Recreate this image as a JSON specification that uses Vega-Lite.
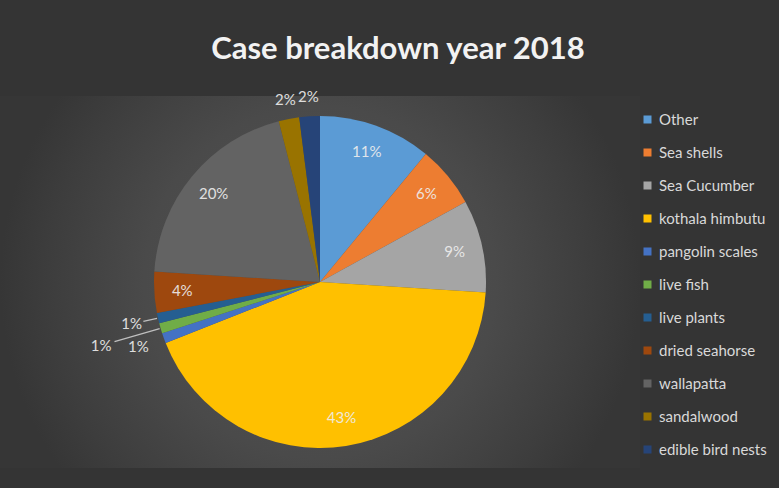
{
  "$schema": "https://vega.github.io/schema/vega-lite/v6.json",
  "width": 640,
  "height": 372,
  "autosize": {"type": "none"},
  "padding": {"left": 0, "top": 96, "right": 139, "bottom": 20},
  "background": "#343434",
  "config": {
    "font": "Lato",
    "view": {"stroke": null}
  },
  "title": {
    "text": "Case breakdown year 2018",
    "font": "Lato",
    "fontSize": 31,
    "fontWeight": "bold",
    "color": "#f2f2f2",
    "anchor": "middle",
    "frame": "group",
    "dx": 78,
    "offset": -19
  },
  "data": {
    "values": [
      {"rank": 1, "name": "Other", "pct": 11, "label": "11%"},
      {"rank": 2, "name": "Sea shells", "pct": 6, "label": "6%"},
      {"rank": 3, "name": "Sea Cucumber", "pct": 9, "label": "9%"},
      {"rank": 4, "name": "kothala himbutu", "pct": 43, "label": "43%"},
      {"rank": 5, "name": "pangolin scales", "pct": 1, "label": "1%"},
      {"rank": 6, "name": "live fish", "pct": 1, "label": "1%"},
      {"rank": 7, "name": "live plants", "pct": 1, "label": "1%"},
      {"rank": 8, "name": "dried seahorse", "pct": 4, "label": "4%"},
      {"rank": 9, "name": "wallapatta", "pct": 20, "label": "20%"},
      {"rank": 10, "name": "sandalwood", "pct": 2, "label": "2%"},
      {"rank": 11, "name": "edible bird nests", "pct": 2, "label": "2%"}
    ]
  },
  "layer": [
    {
      "transform": [{"filter": "datum.rank === 1"}],
      "mark": {
        "type": "rect",
        "fill": {
          "gradient": "radial",
          "x1": 0.5, "y1": 0.5, "r1": 0,
          "x2": 0.5, "y2": 0.5, "r2": 0.5,
          "stops": [
            {"offset": 0, "color": "#545454"},
            {"offset": 0.55, "color": "#4a4a4a"},
            {"offset": 0.85, "color": "#3d3d3d"},
            {"offset": 1, "color": "#363636"}
          ]
        }
      },
      "encoding": {}
    },
    {
      "mark": {"type": "arc", "outerRadius": 166, "stroke": null},
      "encoding": {
        "theta": {"field": "pct", "type": "quantitative", "stack": true},
        "order": {"field": "rank", "type": "quantitative"},
        "color": {
          "field": "name",
          "type": "nominal",
          "sort": null,
          "scale": {
            "domain": ["Other", "Sea shells", "Sea Cucumber", "kothala himbutu", "pangolin scales", "live fish", "live plants", "dried seahorse", "wallapatta", "sandalwood", "edible bird nests"],
            "range": ["#5b9bd5", "#ed7d31", "#a5a5a5", "#ffc000", "#4472c4", "#70ad47", "#255e91", "#9e480e", "#636363", "#997300", "#264478"]
          },
          "legend": {
            "title": null,
            "orient": "none",
            "legendX": 640,
            "legendY": 16,
            "symbolType": "square",
            "symbolSize": 64,
            "symbolStrokeWidth": 0,
            "labelFont": "Lato",
            "labelFontSize": 15,
            "labelColor": "#d9d9d9",
            "labelOffset": 4,
            "rowPadding": 17,
            "padding": 0
          }
        }
      }
    },
    {
      "transform": [
        {"stack": "pct", "groupby": [], "sort": [{"field": "rank"}], "as": ["s0", "s1"]},
        {"filter": "datum.name === 'live fish'"}
      ],
      "mark": {"type": "arc", "innerRadius": 167, "outerRadius": 214, "thetaOffset": 0.0314, "theta2Offset": 0.0314, "fill": null, "stroke": "#bfbfbf", "strokeWidth": 1.3},
      "encoding": {
        "theta": {"field": "s0", "type": "quantitative"},
        "theta2": {"field": "s0"}
      }
    },
    {
      "transform": [
        {"stack": "pct", "groupby": [], "sort": [{"field": "rank"}], "as": ["s0", "s1"]},
        {"filter": "datum.name === 'live plants'"}
      ],
      "mark": {"type": "arc", "innerRadius": 167, "outerRadius": 181, "thetaOffset": 0.0314, "theta2Offset": 0.0314, "fill": null, "stroke": "#bfbfbf", "strokeWidth": 1.3},
      "encoding": {
        "theta": {"field": "s0", "type": "quantitative"},
        "theta2": {"field": "s0"}
      }
    },
    {
      "mark": {"type": "text", "radius": 138, "fontSize": 15, "fill": "#eeeeee", "font": "Lato"},
      "encoding": {
        "theta": {"field": "pct", "type": "quantitative", "stack": true},
        "order": {"field": "rank", "type": "quantitative"},
        "detail": {"field": "name", "type": "nominal"},
        "text": {"field": "label", "type": "nominal"},
        "opacity": {"condition": {"test": "datum.pct >= 4", "value": 0.9}, "value": 0}
      }
    },
    {
      "mark": {"type": "text", "radius": 185, "fontSize": 15, "fill": "#eeeeee", "font": "Lato"},
      "encoding": {
        "theta": {"field": "pct", "type": "quantitative", "stack": true},
        "order": {"field": "rank", "type": "quantitative"},
        "detail": {"field": "name", "type": "nominal"},
        "text": {"field": "label", "type": "nominal"},
        "opacity": {"condition": {"test": "datum.name === 'sandalwood' || datum.name === 'edible bird nests'", "value": 0.9}, "value": 0}
      }
    },
    {
      "mark": {"type": "text", "radius": 193, "fontSize": 15, "fill": "#eeeeee", "font": "Lato"},
      "encoding": {
        "theta": {"field": "pct", "type": "quantitative", "stack": true},
        "order": {"field": "rank", "type": "quantitative"},
        "detail": {"field": "name", "type": "nominal"},
        "text": {"field": "label", "type": "nominal"},
        "opacity": {"condition": {"test": "datum.name === 'pangolin scales' || datum.name === 'live plants'", "value": 0.9}, "value": 0}
      }
    },
    {
      "mark": {"type": "text", "radius": 228, "fontSize": 15, "fill": "#eeeeee", "font": "Lato"},
      "encoding": {
        "theta": {"field": "pct", "type": "quantitative", "stack": true},
        "order": {"field": "rank", "type": "quantitative"},
        "detail": {"field": "name", "type": "nominal"},
        "text": {"field": "label", "type": "nominal"},
        "opacity": {"condition": {"test": "datum.name === 'live fish'", "value": 0.9}, "value": 0}
      }
    }
  ]
}
